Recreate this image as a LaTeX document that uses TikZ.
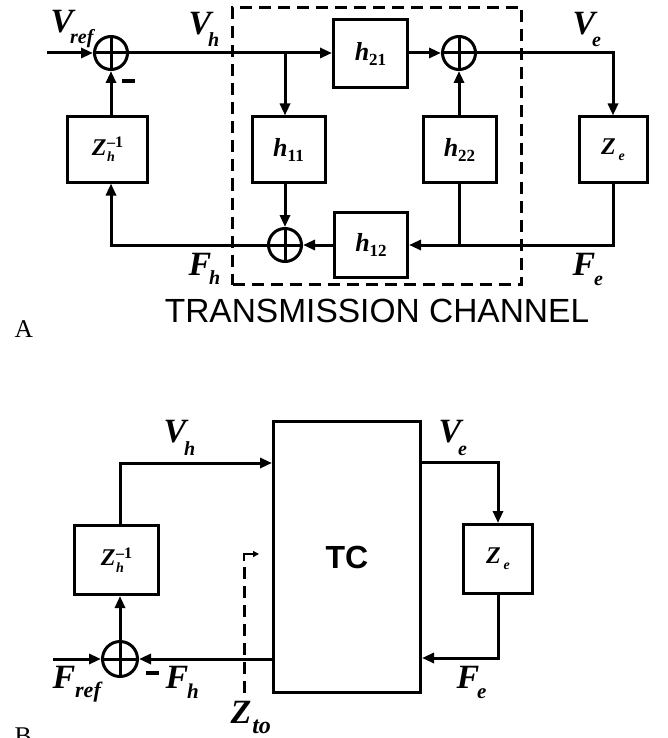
\documentclass[tikz,border=0pt]{standalone}
\usepackage{fontspec}
\setmainfont{Liberation Serif}
\newfontfamily\sansfont{Liberation Sans}
\usetikzlibrary{arrows.meta}
\newcommand{\sg}[5]{{\fontsize{34}{34}\selectfont\bfseries\itshape #1}\kern#3\raisebox{-#4}{\fontsize{#5}{#5}\selectfont\bfseries\itshape #2}}
\newcommand{\zhinv}{{\fontsize{24}{24}\selectfont\bfseries\itshape Z}\kern0.5pt\rlap{\raisebox{7.5pt}{\fontsize{16}{16}\selectfont\bfseries\textendash1}}\rlap{\raisebox{-6.5pt}{\fontsize{14}{14}\selectfont\bfseries\itshape h}}\phantom{\fontsize{16}{16}\selectfont\bfseries\textendash1}}
\newcommand{\zelab}{{\fontsize{24}{24}\selectfont\bfseries\itshape Z}\kern3pt\raisebox{-6pt}{\fontsize{14}{14}\selectfont\bfseries\itshape e}}
\newcommand{\hlab}[1]{{\fontsize{26}{26}\selectfont\bfseries\itshape h}\raisebox{-5pt}{\fontsize{17}{17}\selectfont\bfseries #1}}
\begin{document}
\begin{tikzpicture}[x=1pt,y=-1pt,line width=3pt,>={Triangle[length=12pt,width=10pt]},
  blk/.style={draw,line width=3pt,inner sep=0pt},
  sum/.style={draw,circle,line width=3pt,minimum size=33pt,inner sep=0pt,
    path picture={\draw[line width=3pt] (path picture bounding box.north) -- (path picture bounding box.south) (path picture bounding box.west) -- (path picture bounding box.east);}},
  lbl/.style={anchor=base west,inner sep=0pt},
  dsh/.style={dash pattern=on 12pt off 7pt}]
\useasboundingbox (0,0) rectangle (668,738);

% ---------- Part A ----------
\node[blk,dsh,minimum width=289pt,minimum height=277pt] (chan) at (377,146) {};
\node[blk,minimum width=80pt,minimum height=65pt] (zh) at (107.5,149.5) {\zhinv};
\node[blk,minimum width=73pt,minimum height=65pt] (h11) at (288.5,149.5) {\hlab{11}};
\node[blk,minimum width=74pt,minimum height=68pt] (h21) at (370.5,53.5) {\hlab{21}};
\node[blk,minimum width=73pt,minimum height=65pt] (h22) at (459.5,149.5) {\hlab{22}};
\node[blk,minimum width=68pt,minimum height=65pt] (ze) at (613,149.5) {\zelab};
\node[blk,minimum width=73pt,minimum height=65pt] (h12) at (371,245) {\hlab{12}};
\node[sum] (s1) at (111,53) {};
\node[sum] (s2) at (459,53) {};
\node[sum] (s3) at (285,245) {};

\coordinate (vin) at (47,53);
\draw[->] (vin) -- (s1.west);
\draw[->] (s1.east) -- (s1.east -| h21.west);
\coordinate (b1) at (285,53);
\draw[->] (b1) -- (b1 |- h11.north);
\draw[->] (h21.east |- s2) -- (s2.west);
\coordinate (c1) at (613,53);
\draw[->] (s2.east) -- (c1) -- (ze.north);
\draw[->] (h22.north -| s2) -- (s2.south);
\coordinate (c2) at (613,245);
\draw[->] (ze.south) -- (c2) -- (h12.east);
\coordinate (c3) at (459,245);
\draw (h22.south -| c3) -- (c3);
\draw[->] (h12.west) -- (s3.east);
\draw[->] (h11.south -| s3) -- (s3.north);
\coordinate (c4) at (111,245);
\draw[->] (s3.west) -- (c4) -- (c4 |- zh.south);
\draw[->] (zh.north -| s1) -- (s1.south);

\node[lbl] (lvref) at (49,33) {\sg{V}{ref}{-3pt}{11pt}{20}};
\node[lbl] (lvh) at (187,35) {\sg{V}{h}{-3pt}{12pt}{20}};
\node[lbl] (lve) at (571,35) {\sg{V}{e}{-3pt}{12pt}{20}};
\node[lbl] (lfh) at (187,275) {\sg{F}{h}{-2pt}{9pt}{20}};
\node[lbl] (lfe) at (571,275) {\sg{F}{e}{-1pt}{10pt}{20}};
\node[inner sep=0pt] (m1) at (128.5,81) {\rule{13pt}{4pt}};
\node[anchor=base,inner sep=0pt,font={\sansfont\fontsize{33.5}{33.5}\selectfont}] (tt) at (377,322) {TRANSMISSION CHANNEL};
\node[lbl,font={\fontsize{25.5}{25.5}\selectfont}] (la) at (13,337) {A};

% ---------- Part B ----------
\node[blk,minimum width=147pt,minimum height=271pt,font={\sansfont\bfseries\fontsize{32}{32}\selectfont}] (tc) at (347,557) {TC};
\node[blk,minimum width=84pt,minimum height=69pt] (zhb) at (116.5,560) {\zhinv};
\node[blk,minimum width=69pt,minimum height=69pt] (zeb) at (498,559) {\zelab};
\node[sum,minimum size=35pt] (s4) at (120,659) {};

\coordinate (d1) at (120,463);
\draw[->] (zhb.north -| d1) -- (d1) -- (d1 -| tc.west);
\coordinate (d2) at (498,462);
\draw[->] (d2 -| tc.east) -- (d2) -- (zeb.north);
\coordinate (d3) at (498,658);
\draw[->] (zeb.south) -- (d3) -- (d3 -| tc.east);
\draw[->] (s4 -| tc.west) -- (s4.east);
\coordinate (fin) at (53,659);
\draw[->] (fin) -- (s4.west);
\draw[->] (s4.north) -- (s4 |- zhb.south);

\coordinate (z1) at (244,693);
\coordinate (z2) at (244,561);
\coordinate (z3) at (244,554);
\coordinate (z4) at (259,554);
\draw[dsh] (z1) -- (z2);
\draw[line width=2pt,-{Triangle[length=6pt,width=6pt]}] (z2) -- (z3) -- (z4);

\node[lbl] (lvh2) at (162,442) {\sg{V}{h}{-2pt}{13pt}{20}};
\node[lbl] (lve2) at (437,442) {\sg{V}{e}{-3pt}{13pt}{20}};
\node[lbl] (lfref) at (51,688) {\sg{F}{ref}{0pt}{9pt}{22}};
\node[lbl] (lfh2) at (164,688) {\sg{F}{h}{-1pt}{10pt}{21}};
\node[lbl] (lfe2) at (455,688) {\sg{F}{e}{-2pt}{10pt}{21}};
\node[lbl] (lzto) at (229,723) {\sg{Z}{to}{1pt}{10pt}{24}};
\node[inner sep=0pt] (m2) at (152.5,673) {\rule{13pt}{4pt}};
\node[lbl,font={\fontsize{25.5}{25.5}\selectfont}] (lb) at (13,744) {B};
\end{tikzpicture}
\end{document}
